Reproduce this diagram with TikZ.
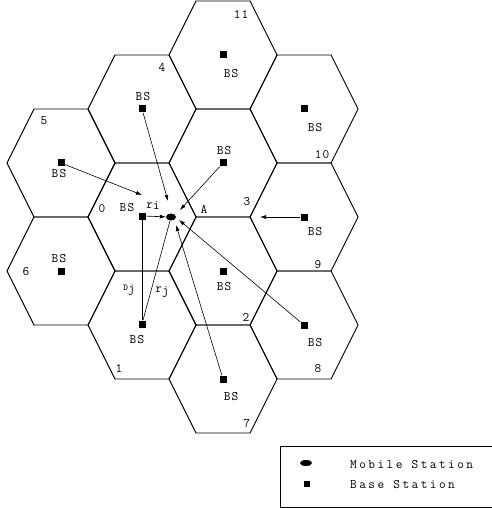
\documentclass[tikz,border=0pt]{standalone}
\usepackage{fontspec}
\newfontfamily\cellfont[LetterSpace=9]{Latin Modern Mono}
\newfontfamily\keyfont[LetterSpace=19]{Latin Modern Mono}
\usetikzlibrary{arrows.meta,shapes.geometric}

\tikzset{
  hexline/.style={line width=0.9bp},
  bsmark/.style={fill=black, minimum size=7bp, inner sep=0pt},
  mobile/.style={ellipse, fill=black, minimum width=10bp, minimum height=7bp, inner sep=0pt},
  lbl/.style={font=\cellfont\fontsize{13}{13}\selectfont, inner sep=0pt},
  keylbl/.style={font=\keyfont\fontsize{13}{13}\selectfont, inner sep=0pt, anchor=west},
  link/.style={line width=0.6bp},
  sig/.style={link, -{Latex[length=6bp,width=4bp]}},
}

\begin{document}
\begin{tikzpicture}[x=1bp,y=-1bp]
    \useasboundingbox (0,0) rectangle (492,508);

    % cells
    \foreach \cx/\cy in {142/217,142/325,61/271,61/163,142/109,223/55,223/163,223/271,223/379,304/109,304/217,304/325}
      \draw[hexline] ({\cx-54},\cy) -- ({\cx-27},{\cy-54}) -- ({\cx+27},{\cy-54})
        -- ({\cx+54},\cy) -- ({\cx+27},{\cy+54}) -- ({\cx-27},{\cy+54}) -- cycle;

    \foreach \n/\x/\y in {0/102/209,1/119/368,2/246/317,3/247/202,4/162/67,5/44/121,
                          6/26/272,7/247/424,8/318/369,9/318/265,10/322/155,11/241/14}
      \node[lbl] (num\n) at (\x,\y) {\n};

    % base stations
    \foreach \n/\x/\y in {0/142/216,1/142/324,2/223/271,3/223/163,4/142/109,5/61/163,
                          6/61/271,7/223/379,8/304/325,9/304/217,10/304/109,11/223/55}
      \node[bsmark] (bs\n) at (\x,\y) {};

    \foreach \n/\x/\y in {0/127/208,1/137/340,2/224/287,3/224/151,4/143/97,5/59/174,
                          6/59/259,7/231/397,8/315/343,9/315/232,10/315/128,11/231/74}
      \node[lbl] (bsname\n) at (\x,\y) {BS};

    \node[mobile] (ms) at (171,217) {};
    \node[lbl] (pta) at (204,209) {A};
    \node[lbl] (ri) at (153,206) {r\raisebox{-1.5bp}{i}};
    \node[lbl] (dj) at (129,290) {{\fontsize{9}{9}\selectfont D}\raisebox{-2bp}{j}};
    \node[lbl] (rj) at (162,292) {r\raisebox{-2bp}{j}};

    \coordinate (tip5) at (142,195);
    \coordinate (tip4) at (168,201);
    \coordinate (tip3) at (180,210);
    \coordinate (tip9) at (260,217);
    \coordinate (tip8) at (179,220);
    \coordinate (tip7) at (176,225);

    \draw[sig] (bs0) -- (ms);
    \draw[sig] (bs5) -- (tip5);
    \draw[sig] (bs4) -- (tip4);
    \draw[sig] (bs3) -- (tip3);
    \draw[sig] (bs9) -- (tip9);
    \draw[sig] (bs8) -- (tip8);
    \draw[sig] (bs7) -- (tip7);
    \draw[link] (bs1) -- (bs0);
    \draw[link] (bs1) -- (ms);

    % legend
    \draw[link] (280,446) rectangle (494,507.5);
    \node[mobile, minimum width=12bp, minimum height=6bp] (keyms) at (306,463) {};
    \node[bsmark, minimum size=6bp] (keybs) at (307,484) {};
    \node[keylbl] (keymstext) at (350,465) {Mobile Station};
    \node[keylbl] (keybstext) at (350,485) {Base Station};
\end{tikzpicture}
\end{document}
